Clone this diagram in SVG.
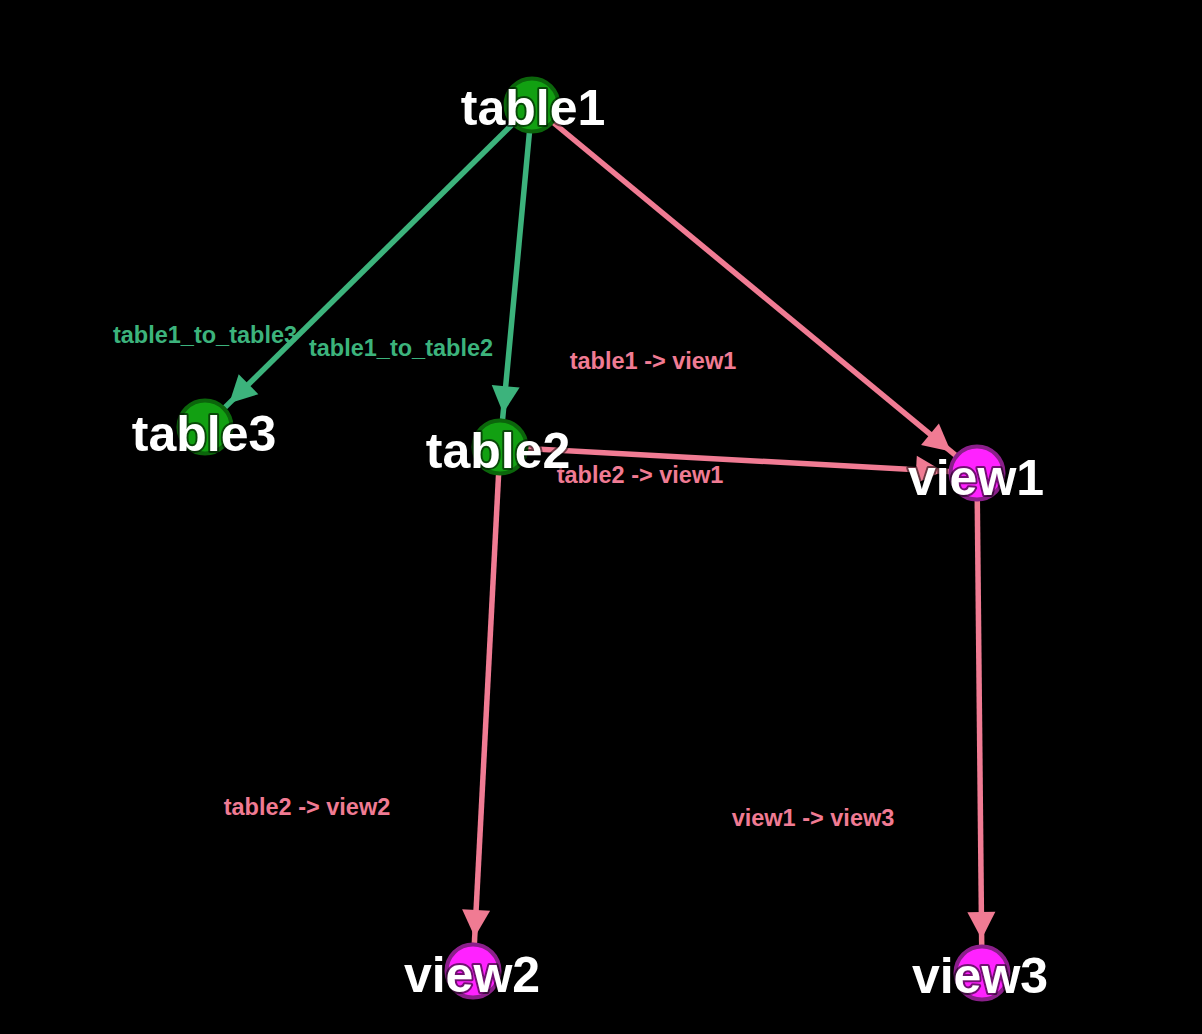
<svg xmlns="http://www.w3.org/2000/svg" width="1202" height="1034" viewBox="0 0 1202 1034">
  <style>
    .edge { stroke-width: 5.5; fill: none; }
    .g { stroke: #3cb37c; }
    .p { stroke: #f07b93; }
    .elabel { font-family: "Liberation Sans", Arial, sans-serif; font-weight: bold; font-size: 23.5px; text-anchor: middle; }
    .elg { fill: #3cb37c; }
    .elp { fill: #f07b93; }
    .tbl { fill: #12a012; stroke: #0b650b; stroke-width: 4; }
    .vw { fill: #ff22ff; stroke: #8a1f8a; stroke-width: 4; }
    .nlabel { font-family: "Liberation Sans", Arial, sans-serif; font-weight: bold; font-size: 50px; text-anchor: middle; fill: #ffffff; stroke: #000000; stroke-opacity: 0.55; stroke-width: 4; paint-order: stroke; stroke-linejoin: round; }
  </style>
  <defs>
    <marker id="ag" markerUnits="userSpaceOnUse" markerWidth="40" markerHeight="40" refX="33" refY="0" orient="auto" overflow="visible">
      <path d="M0,-14 L27,0 L0,14 z" fill="#3cb37c"/>
    </marker>
    <marker id="ap" markerUnits="userSpaceOnUse" markerWidth="40" markerHeight="40" refX="33" refY="0" orient="auto" overflow="visible">
      <path d="M0,-14 L27,0 L0,14 z" fill="#f07b93"/>
    </marker>
  </defs>
  <rect width="1202" height="1034" fill="#000000"/>

  <g id="edge-labels">
    <text class="elabel elg" x="205" y="343">table1_to_table3</text>
    <text class="elabel elg" x="401" y="356">table1_to_table2</text>
    <text class="elabel elp" x="653" y="369">table1 -&gt; view1</text>
    <text class="elabel elp" x="640" y="483">table2 -&gt; view1</text>
    <text class="elabel elp" x="307" y="815">table2 -&gt; view2</text>
    <text class="elabel elp" x="813" y="826">view1 -&gt; view3</text>
  </g>

  <g id="connectors">
    <line class="edge g" x1="532" y1="105" x2="225" y2="407.4" marker-end="url(#ag)"/>
    <line class="edge g" x1="532" y1="105" x2="502.6" y2="419.1" marker-end="url(#ag)"/>
    <line class="edge p" x1="532" y1="105" x2="955.4" y2="455.2" marker-end="url(#ap)"/>
    <line class="edge p" x1="500" y1="447" x2="949" y2="471.5" marker-end="url(#ap)"/>
    <line class="edge p" x1="500" y1="447" x2="474.4" y2="943" marker-end="url(#ap)"/>
    <line class="edge p" x1="977" y1="473" x2="981.7" y2="945" marker-end="url(#ap)"/>
  </g>

  <g id="table1">
    <circle class="tbl" cx="532" cy="105" r="26.5"/>
    <text class="nlabel" x="533" y="125">table1</text>
  </g>
  <g id="table3">
    <circle class="tbl" cx="205" cy="427" r="26.5"/>
    <text class="nlabel" x="204" y="451">table3</text>
  </g>
  <g id="table2">
    <circle class="tbl" cx="500" cy="447" r="26.5"/>
    <text class="nlabel" x="498" y="468">table2</text>
  </g>
  <g id="view1">
    <circle class="vw" cx="977" cy="473" r="26.5"/>
    <text class="nlabel" x="976" y="495">view1</text>
  </g>
  <g id="view2">
    <circle class="vw" cx="473" cy="971" r="26.5"/>
    <text class="nlabel" x="472" y="992">view2</text>
  </g>
  <g id="view3">
    <circle class="vw" cx="982" cy="973" r="26.5"/>
    <text class="nlabel" x="980" y="993">view3</text>
  </g>
</svg>
